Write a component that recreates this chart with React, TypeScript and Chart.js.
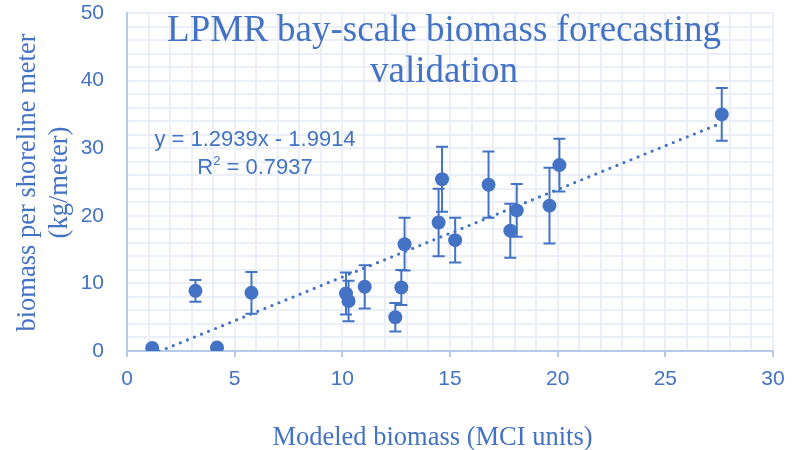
import React, { useEffect, useRef } from "react";
import { Chart, registerables } from "chart.js";

Chart.register(...registerables);

// ---- data ----
const modeledMCI = [1.17, 3.18, 4.18, 5.78, 10.17, 10.29, 11.04, 12.46, 12.74, 12.89, 14.47, 14.63, 15.24, 16.79, 17.8, 18.1, 19.62, 20.08, 27.62];
const biomassPerMeter = [0.44, 8.9, 0.5, 8.6, 8.5, 7.4, 9.5, 5.0, 9.4, 15.8, 19.0, 25.4, 16.4, 24.6, 17.8, 20.8, 21.5, 27.5, 35.0];
const errorAmount = [0, 1.6, 0, 3.1, 3.1, 3.0, 3.2, 2.1, 2.6, 3.9, 5.0, 4.8, 3.3, 4.9, 4.0, 3.9, 5.6, 3.9, 3.9];
const trendSlope = 1.2939;
const trendIntercept = -1.9914;
const rSquared = 0.7937;
const chartTitleLines = ["LPMR bay-scale biomass forecasting", "validation"];
const xAxisTitle = "Modeled biomass (MCI units)";
const yAxisTitleLines = ["biomass per shoreline meter", "(kg/meter)"];
const xMax = 30;
const yMax = 50;

const BLUE = "#4472C4";
const GRID = "#EBEFF8";
const AXIS = "#B8CAEA";

const errorBarPlugin = {
  id: "errorBars",
  beforeDatasetDraw(chart: any, args: any) {
    if (args.index !== 0) return;
    const { ctx } = chart;
    const xs = chart.scales.x;
    const ys = chart.scales.y;
    ctx.save();
    ctx.strokeStyle = BLUE;
    ctx.lineWidth = 2;
    modeledMCI.forEach((x, i) => {
      const e = errorAmount[i];
      if (!e) return;
      const px = xs.getPixelForValue(x);
      const top = ys.getPixelForValue(biomassPerMeter[i] + e);
      const bot = ys.getPixelForValue(biomassPerMeter[i] - e);
      ctx.beginPath();
      ctx.moveTo(px, top);
      ctx.lineTo(px, bot);
      ctx.moveTo(px - 6, top);
      ctx.lineTo(px + 6, top);
      ctx.moveTo(px - 6, bot);
      ctx.lineTo(px + 6, bot);
      ctx.stroke();
    });
    ctx.restore();
  },
};

const textPlugin = {
  id: "texts",
  afterDraw(chart: any) {
    const { ctx } = chart;
    ctx.save();
    ctx.fillStyle = BLUE;
    // chart title
    ctx.font = "37px 'Liberation Serif'";
    ctx.textAlign = "center";
    ctx.textBaseline = "alphabetic";
    ctx.fillText(chartTitleLines[0], 444, 41);
    ctx.fillText(chartTitleLines[1], 444, 82);
    // x axis title
    ctx.font = "26.5px 'Liberation Serif'";
    ctx.fillText(xAxisTitle, 432.5, 445);
    // y axis title
    ctx.save();
    ctx.translate(0, 182.5);
    ctx.rotate(-Math.PI / 2);
    ctx.fillText(yAxisTitleLines[0], 0, 35);
    ctx.fillText(yAxisTitleLines[1], 0, 66.5);
    ctx.restore();
    // trendline equation
    ctx.font = "22px 'Liberation Sans'";
    const sign = trendIntercept < 0 ? "-" : "+";
    ctx.fillText(`y = ${trendSlope}x ${sign} ${Math.abs(trendIntercept)}`, 255, 146);
    const r = "R";
    const rest = ` = ${rSquared}`;
    ctx.textAlign = "left";
    const wR = ctx.measureText(r).width;
    const wRest = ctx.measureText(rest).width;
    ctx.font = "13px 'Liberation Sans'";
    const w2 = ctx.measureText("2").width;
    const total = wR + w2 + wRest;
    const x0 = 255 - total / 2;
    ctx.font = "22px 'Liberation Sans'";
    ctx.fillText(r, x0, 174.3);
    ctx.font = "13px 'Liberation Sans'";
    ctx.fillText("2", x0 + wR, 165);
    ctx.font = "22px 'Liberation Sans'";
    ctx.fillText(rest, x0 + wR + w2, 174.3);
    ctx.restore();
  },
};

export default function App() {
  const canvasRef = useRef<HTMLCanvasElement | null>(null);

  useEffect(() => {
    document.body.style.margin = "0";
    const canvas = canvasRef.current;
    if (!canvas) return;
    const xLo = Math.min(...modeledMCI);
    const xHi = Math.max(...modeledMCI);
    const chart = new Chart(canvas, {
      type: "scatter",
      data: {
        datasets: [
          {
            label: "biomass",
            data: modeledMCI.map((x, i) => ({ x, y: biomassPerMeter[i] })),
            backgroundColor: BLUE,
            borderColor: BLUE,
            borderWidth: 0,
            pointRadius: 7,
          },
          {
            type: "line",
            label: "trend",
            data: [
              { x: xLo, y: trendSlope * xLo + trendIntercept },
              { x: xHi, y: trendSlope * xHi + trendIntercept },
            ],
            borderColor: BLUE,
            borderWidth: 3.2,
            borderDash: [0, 7.6],
            borderCapStyle: "round",
            pointRadius: 0,
            fill: false,
          } as any,
        ],
      },
      options: {
        responsive: false,
        animation: false,
        layout: { padding: { top: 13, right: 26, left: 0, bottom: 0 } },
        plugins: {
          legend: { display: false },
          tooltip: { enabled: false },
          title: { display: false },
        },
        scales: {
          x: {
            type: "linear",
            min: 0,
            max: xMax,
            afterFit: (s: any) => {
              s.height = 99;
              s.paddingLeft = 0;
              s.paddingRight = 0;
            },
            ticks: {
              stepSize: 1,
              autoSkip: false,
              maxRotation: 0,
              color: BLUE,
              padding: 10,
              font: { family: "'Liberation Sans'", size: 21 },
              callback: (v: any) => (Number(v) % 5 === 0 ? String(v) : ""),
            },
            grid: {
              color: GRID,
              lineWidth: 2,
              tickLength: 6,
              tickWidth: 2,
              tickColor: (c: any) => (c.tick && c.tick.value % 5 === 0 ? AXIS : "rgba(0,0,0,0)"),
            },
            border: { color: AXIS, width: 2 },
          },
          y: {
            type: "linear",
            min: 0,
            max: yMax,
            afterFit: (s: any) => {
              s.width = 127;
              s.paddingTop = 0;
              s.paddingBottom = 0;
            },
            ticks: {
              stepSize: 2,
              autoSkip: false,
              color: BLUE,
              padding: 23,
              font: { family: "'Liberation Sans'", size: 21 },
              callback: (v: any) => (Number(v) % 10 === 0 ? String(v) : ""),
            },
            grid: {
              color: GRID,
              lineWidth: 2,
              drawTicks: false,
            },
            border: { color: AXIS, width: 2 },
          },
        },
      },
      plugins: [errorBarPlugin, textPlugin],
    } as any);
    return () => chart.destroy();
  }, []);

  return (
    <div style={{ width: 799, height: 450 }}>
      <canvas ref={canvasRef} width={799} height={450} />
    </div>
  );
}
